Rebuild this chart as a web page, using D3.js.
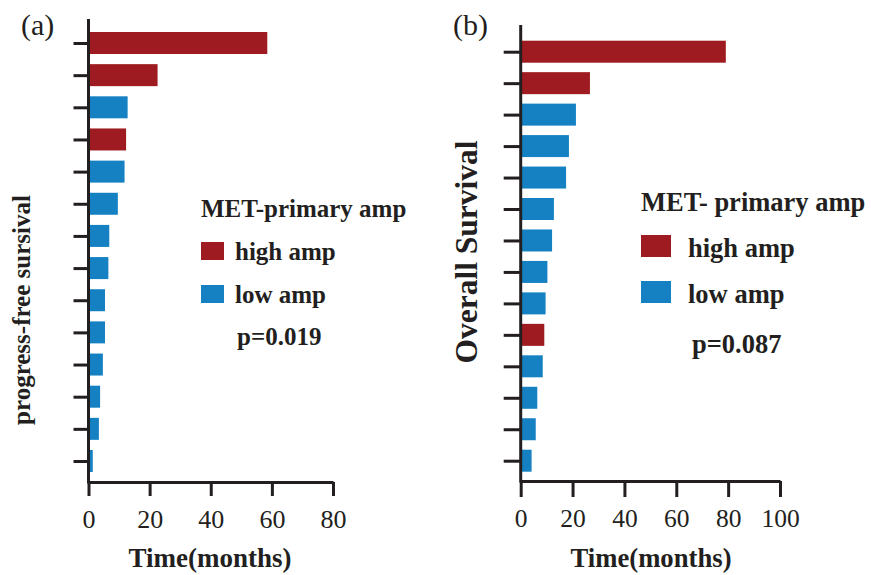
<!DOCTYPE html>
<html>
<head>
<meta charset="utf-8">
<script src="https://cdn.jsdelivr.net/npm/d3@7"></script>
<style>
  body { margin: 0; background: #fff; }
  text { font-family: "Liberation Serif", "Times New Roman", serif; fill: #231f20; }
</style>
</head>
<body>
<svg id="chart" width="871" height="575"></svg>
<script>
// patients, ordered by survival time (top to bottom)
const patients = d3.range(1, 15).map(String);

// panel (a): progression-free survival, months
const pfsMonths = [58.5, 22.6, 12.8, 12.3, 11.8, 9.6, 6.8, 6.5, 5.4, 5.4, 4.7, 3.8, 3.4, 1.4];
const pfsGroup = ["high", "high", "low", "high", "low", "low", "low", "low", "low", "low", "low", "low", "low", "low"];
const pfsTicks = [0, 20, 40, 60, 80];

// panel (b): overall survival, months
const osMonths = [79.1, 26.7, 21.3, 18.6, 17.5, 12.8, 12.1, 10.3, 9.6, 9.1, 8.5, 6.4, 5.8, 4.2];
const osGroup = ["high", "high", "low", "low", "low", "low", "low", "low", "low", "high", "low", "low", "low", "low"];
const osTicks = [0, 20, 40, 60, 80, 100];

const groups = ["high", "low"];
const groupLabels = ["high amp", "low amp"];

const svg = d3.select("#chart");
const ink = "#231f20";
const color = d3.scaleOrdinal().domain(groups).range(["#9e1c21", "#1581c3"]);

function drawPanel(p) {
    const g = svg.append("g");

    const x = d3.scaleLinear().domain([0, p.ticks[p.ticks.length - 1]]).range([p.x0, p.x1]);
    const y = d3.scalePoint().domain(patients).range([p.yFirst, p.yLast]);

    // bars
    g.selectAll(".bar")
        .data(p.values)
        .enter().append("rect")
        .attr("x", x(0))
        .attr("y", (d, i) => y(patients[i]) - p.barH / 2)
        .attr("width", d => x(d) - x(0))
        .attr("height", p.barH)
        .attr("fill", (d, i) => color(p.group[i]));

    // y axis: ticks only, domain drawn as a longer line
    const yAxis = g.append("g")
        .attr("transform", `translate(${x(0)},0)`)
        .call(d3.axisLeft(y).tickSize(p.yTick).tickFormat(""));
    yAxis.select(".domain").remove();
    yAxis.selectAll("line").attr("stroke", ink).attr("stroke-width", 3);
    g.append("line")
        .attr("x1", x(0)).attr("x2", x(0))
        .attr("y1", p.axisTop).attr("y2", p.axisBottom + 1.5)
        .attr("stroke", ink).attr("stroke-width", 3);

    // x axis
    const xAxis = g.append("g")
        .attr("transform", `translate(0,${p.axisBottom})`)
        .call(d3.axisBottom(x).tickValues(p.ticks).tickSize(p.xTick).tickSizeOuter(0));
    xAxis.select(".domain").attr("stroke", ink).attr("stroke-width", 3);
    xAxis.selectAll("line").attr("stroke", ink).attr("stroke-width", 3);
    xAxis.selectAll("text")
        .attr("y", 46).attr("dy", 0)
        .style("font-size", p.tickFont + "px")
        .style("fill", ink);

    // panel letter
    g.append("text")
        .attr("x", p.letterX).attr("y", 35)
        .style("font-size", "30px")
        .text(p.letter);

    // axis titles
    g.append("text")
        .attr("transform", `translate(${p.yTitleX},${p.yTitleY}) rotate(-90)`)
        .attr("text-anchor", "middle")
        .style("font-size", p.yTitleFont + "px")
        .style("font-weight", "bold")
        .text(p.yTitle);

    g.append("text")
        .attr("x", p.xTitleX).attr("y", 567)
        .attr("text-anchor", "middle")
        .style("font-size", p.xTitleFont + "px")
        .style("font-weight", "bold")
        .text("Time(months)");

    // legend
    g.append("text")
        .attr("x", p.legX).attr("y", p.legY)
        .style("font-size", p.legFont + "px")
        .style("font-weight", "bold")
        .text(p.legTitle);

    const items = g.selectAll(".legend")
        .data(groups)
        .enter().append("g")
        .attr("transform", (d, i) => `translate(${p.legX},${p.legY + p.legGap * (i + 1)})`);
    items.append("rect")
        .attr("x", 0).attr("y", -p.swH)
        .attr("width", p.swW).attr("height", p.swH)
        .attr("fill", d => color(d));
    items.append("text")
        .attr("x", p.textX).attr("y", 0)
        .style("font-size", p.legFont + "px")
        .style("font-weight", "bold")
        .text((d, i) => groupLabels[i]);

    g.append("text")
        .attr("x", p.pX).attr("y", p.pY)
        .style("font-size", p.legFont + "px")
        .style("font-weight", "bold")
        .text(p.pText);
}

drawPanel({
    values: pfsMonths, group: pfsGroup, ticks: pfsTicks,
    x0: 88.5, x1: 333, yFirst: 43, yLast: 461, axisTop: 19, axisBottom: 482,
    barH: 22, yTick: 15, xTick: 14, tickFont: 26,
    letter: "(a)", letterX: 21,
    yTitle: "progress-free sursival", yTitleX: 30, yTitleY: 310, yTitleFont: 25,
    xTitleX: 210, xTitleFont: 27,
    legTitle: "MET-primary amp", legX: 201, legY: 217, legGap: 43, legFont: 25,
    swW: 23, swH: 18, textX: 34,
    pText: "p=0.019", pX: 237, pY: 345
});

drawPanel({
    values: osMonths, group: osGroup, ticks: osTicks,
    x0: 520.7, x1: 780, yFirst: 51.7, yLast: 460.7, axisTop: 25, axisBottom: 481,
    barH: 22, yTick: 17, xTick: 16, tickFont: 25.5,
    letter: "(b)", letterX: 453,
    yTitle: "Overall Survival", yTitleX: 477, yTitleY: 252, yTitleFont: 31.5,
    xTitleX: 651, xTitleFont: 26.7,
    legTitle: "MET- primary amp", legX: 641, legY: 211, legGap: 46, legFont: 26.5,
    swW: 30, swH: 22, textX: 47,
    pText: "p=0.087", pX: 692, pY: 353
});
</script>
</body>
</html>
